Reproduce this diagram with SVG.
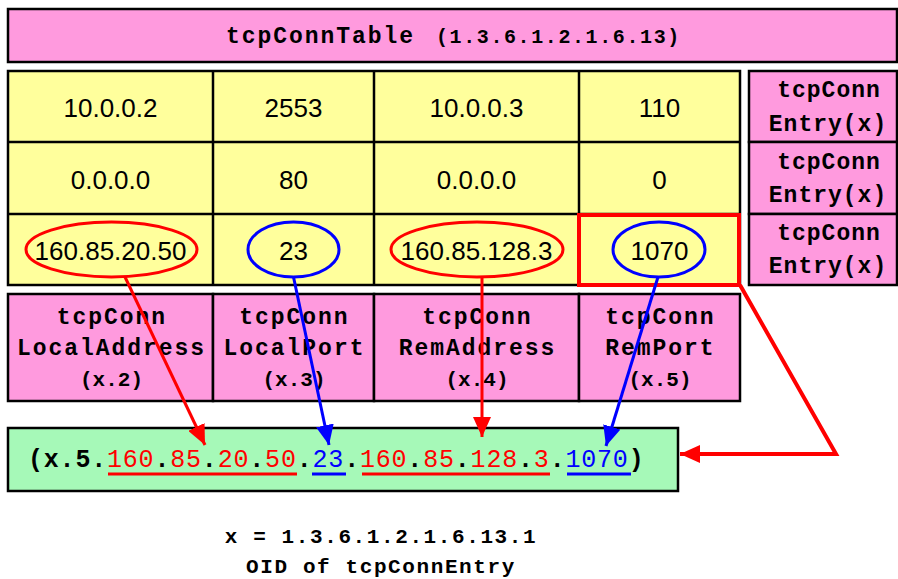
<svg xmlns="http://www.w3.org/2000/svg" width="898" height="579" viewBox="0 0 898 579">
<style>
.pink{fill:#FF9ADE;stroke:#000;stroke-width:2.5}
.yel{fill:#FFFF9C;stroke:#000;stroke-width:2.5}
.grn{fill:#A6F9B8;stroke:#000;stroke-width:2.5}
.big{font-family:"Liberation Mono",monospace;font-weight:bold;font-size:23px;letter-spacing:1.95px;text-anchor:middle;fill:#000}
.ent{font-family:"Liberation Mono",monospace;font-weight:bold;font-size:23px;letter-spacing:1.0px;text-anchor:middle;fill:#000}
.sm{font-family:"Liberation Mono",monospace;font-weight:bold;font-size:21px;letter-spacing:0px;text-anchor:middle;fill:#000}
.cell{font-family:"Liberation Sans",Arial,sans-serif;font-size:26px;text-anchor:middle;fill:#000}
.foot{font-family:"Liberation Mono",monospace;font-weight:bold;font-size:21px;letter-spacing:1.6px;text-anchor:middle;fill:#000}
.re{fill:none;stroke:#FF0000;stroke-width:3}
.be{fill:none;stroke:#0000FF;stroke-width:3}
.rl{fill:none;stroke:#FF0000;stroke-width:3}
.bl{fill:none;stroke:#0000FF;stroke-width:3}
.r{fill:#FF0000;font-weight:normal}
.b{fill:#0000FF;font-weight:normal}
</style>
<defs>
<marker id="ar" markerUnits="userSpaceOnUse" markerWidth="20" markerHeight="18" refX="20" refY="9" orient="auto"><path d="M0,0 L20,9 L0,18 z" fill="#FF0000"/></marker>
<marker id="ab" markerUnits="userSpaceOnUse" markerWidth="20" markerHeight="18" refX="20" refY="9" orient="auto"><path d="M0,0 L20,9 L0,18 z" fill="#0000FF"/></marker>
</defs>
<rect width="898" height="579" fill="#fff"/>

<g id="title">
<rect class="pink" x="8" y="9" width="889" height="53"/>
<text x="226" y="43" style="font-family:'Liberation Mono',monospace;font-weight:bold;font-size:23px;letter-spacing:1.95px">tcpConnTable</text>
<text x="436" y="43" style="font-family:'Liberation Mono',monospace;font-weight:bold;font-size:20px;letter-spacing:1.6px">(1.3.6.1.2.1.6.13)</text>
</g>

<g id="table">
<rect class="yel" x="8" y="71" width="732" height="214"/>
<line x1="8" y1="142" x2="740" y2="142" stroke="#000" stroke-width="2.5"/>
<line x1="8" y1="214" x2="740" y2="214" stroke="#000" stroke-width="2.5"/>
<line x1="213" y1="71" x2="213" y2="285" stroke="#000" stroke-width="2.5"/>
<line x1="374" y1="71" x2="374" y2="285" stroke="#000" stroke-width="2.5"/>
<line x1="579" y1="71" x2="579" y2="285" stroke="#000" stroke-width="2.5"/>
<text class="cell" x="110.5" y="117">10.0.0.2</text>
<text class="cell" x="293.5" y="117">2553</text>
<text class="cell" x="476.5" y="117">10.0.0.3</text>
<text class="cell" x="659.5" y="117">110</text>
<text class="cell" x="110.5" y="189">0.0.0.0</text>
<text class="cell" x="293.5" y="189">80</text>
<text class="cell" x="476.5" y="189">0.0.0.0</text>
<text class="cell" x="659.5" y="189">0</text>
<text class="cell" x="110.5" y="260">160.85.20.50</text>
<text class="cell" x="293.5" y="260">23</text>
<text class="cell" x="476.5" y="260">160.85.128.3</text>
<text class="cell" x="659.5" y="260">1070</text>
<ellipse class="re" cx="111.5" cy="249.5" rx="85.5" ry="27.5"/>
<ellipse class="be" cx="293.5" cy="249.5" rx="45.5" ry="27.5"/>
<ellipse class="re" cx="477" cy="249.5" rx="86" ry="27.5"/>
<ellipse class="be" cx="659" cy="249.5" rx="46" ry="27.5"/>
<rect x="579" y="215" width="160" height="70" fill="none" stroke="#FF0000" stroke-width="4"/>
</g>

<g id="entry1">
<rect class="pink" x="749" y="71" width="148" height="71"/>
<text class="ent" x="829" y="97">tcpConn</text>
<text class="ent" x="828" y="131">Entry(x)</text>
</g>
<g id="entry2">
<rect class="pink" x="749" y="142" width="148" height="72"/>
<text class="ent" x="829" y="169">tcpConn</text>
<text class="ent" x="828" y="202">Entry(x)</text>
</g>
<g id="entry3">
<rect class="pink" x="749" y="214" width="148" height="71"/>
<text class="ent" x="829" y="240">tcpConn</text>
<text class="ent" x="828" y="273">Entry(x)</text>
</g>

<g id="localAddress">
<rect class="pink" x="8" y="294" width="205" height="107"/>
<text class="big" x="112" y="324">tcpConn</text>
<text class="big" x="111.5" y="355">LocalAddress</text>
<text class="sm" x="111.5" y="386">(x.2)</text>
</g>
<g id="localPort">
<rect class="pink" x="213" y="294" width="161" height="107"/>
<text class="big" x="294.5" y="324">tcpConn</text>
<text class="big" x="294.5" y="355">LocalPort</text>
<text class="sm" x="294" y="386">(x.3)</text>
</g>
<g id="remAddress">
<rect class="pink" x="374" y="294" width="205" height="107"/>
<text class="big" x="477.5" y="324">tcpConn</text>
<text class="big" x="477.5" y="355">RemAddress</text>
<text class="sm" x="477" y="386">(x.4)</text>
</g>
<g id="remPort">
<rect class="pink" x="579" y="294" width="161" height="107"/>
<text class="big" x="660.5" y="324">tcpConn</text>
<text class="big" x="660.5" y="355">RemPort</text>
<text class="sm" x="660" y="386">(x.5)</text>
</g>

<g id="index">
<rect class="grn" x="8" y="428" width="670" height="63"/>
<text x="28" y="467" style="font-family:'Liberation Mono',monospace;font-weight:bold;font-size:25px;letter-spacing:0.8px;fill:#000">(x.5.<tspan class="r">160</tspan>.<tspan class="r">85</tspan>.<tspan class="r">20</tspan>.<tspan class="r">50</tspan>.<tspan class="b">23</tspan>.<tspan class="r">160</tspan>.<tspan class="r">85</tspan>.<tspan class="r">128</tspan>.<tspan class="r">3</tspan>.<tspan class="b">1070</tspan>)</text>
<line x1="108" y1="474" x2="297" y2="474" stroke="#FF0000" stroke-width="3"/>
<line x1="312" y1="474" x2="346" y2="474" stroke="#0000FF" stroke-width="3"/>
<line x1="362" y1="474" x2="550" y2="474" stroke="#FF0000" stroke-width="3"/>
<line x1="567" y1="474" x2="631" y2="474" stroke="#0000FF" stroke-width="3"/>
</g>

<g id="caption">
<text class="foot" x="381" y="543">x = 1.3.6.1.2.1.6.13.1</text>
<text class="foot" x="381" y="573">OID of tcpConnEntry</text>
</g>

<g id="connectors">
<line class="rl" x1="125" y1="277" x2="205" y2="445" marker-end="url(#ar)"/>
<line class="bl" x1="293.5" y1="277" x2="329" y2="445" marker-end="url(#ab)"/>
<line class="rl" x1="482" y1="277" x2="482" y2="437" marker-end="url(#ar)"/>
<line class="bl" x1="658" y1="277" x2="606" y2="446" marker-end="url(#ab)"/>
<polyline points="740,285 836,454 680,454" fill="none" stroke="#FF0000" stroke-width="4" marker-end="url(#ar)"/>
</g>
</svg>
